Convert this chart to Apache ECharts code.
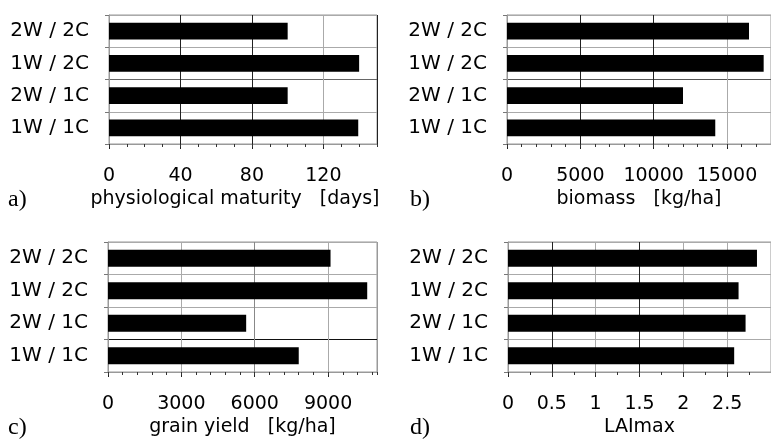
<!DOCTYPE html>
<html>
<head>
<meta charset="utf-8">
<script src="https://cdn.jsdelivr.net/npm/echarts@6/dist/echarts.min.js"></script>
<style>
  html, body { margin: 0; padding: 0; background: #fff; }
  #chart { width: 771px; height: 441px; }
</style>
</head>
<body>
<div id="chart"></div>
<script>
// categories from bottom to top
var categories = ['1W / 1C', '2W / 1C', '1W / 2C', '2W / 2C'];

var maturityDays = [139.5, 100, 140, 100];
var biomass = [14200, 12000, 17500, 16500];
var grainYield = [7800, 5650, 10600, 9100];
var laiMax = [2.58, 2.71, 2.63, 2.84];

// axis scale per panel: max, major step, minor step
var axisMax = [150, 18000, 11000, 3];
var majorStep = [40, 5000, 3000, 0.5];
var minorStep = [10, 1000, 600, 0.25];

var axisNames = ['physiological maturity   [days]', 'biomass   [kg/ha]', 'grain yield   [kg/ha]', 'LAImax'];
var panelLetters = ['a)', 'b)', 'c)', 'd)'];

var panelData = [maturityDays, biomass, grainYield, laiMax];

var grids = [
    {left: 109, width: 268, top: 15, height: 129},
    {left: 507, width: 267, top: 15, height: 129},
    {left: 108, width: 269, top: 242, height: 130},
    {left: 508, width: 276, top: 242, height: 130}
];

var vLineColors = [
    ['#999', '#222', '#222', '#aaa', '#222'],
    ['#999', '#222', '#222', '#aaa', '#aaa'],
    ['#999', '#aaa', '#888', '#aaa', '#999'],
    ['#999', '#222', '#aaa', '#222', '#aaa', '#aaa', '#aaa']
];
var hLineColors = [
    ['#999', '#aaa', '#666', '#aaa', '#aaa'],
    ['#999', '#aaa', '#555', '#aaa', '#aaa'],
    ['#999', '#111', '#aaa', '#aaa', '#aaa'],
    ['#999', '#aaa', '#aaa', '#aaa', '#aaa']
];
var namePadding = [[0, 16, 0, 0], 0, 0, 0];

var font = 'DejaVu Sans';

var xAxes = [], yAxes = [], series = [], gridOpts = [];
for (var i = 0; i < 4; i++) {
    gridOpts.push({
        left: grids[i].left, width: grids[i].width, top: grids[i].top, height: grids[i].height,
        show: true, borderColor: '#999', borderWidth: 1
    });
    xAxes.push({
        type: 'value', gridIndex: i, position: 'bottom',
        min: 0, max: axisMax[i], interval: majorStep[i],
        name: axisNames[i], nameLocation: 'middle', nameGap: 46,
        nameTextStyle: {fontFamily: font, fontSize: 19, color: '#000', padding: namePadding[i]},
        axisLine: {show: true, lineStyle: {color: '#999', width: 1}},
        axisTick: {show: true, length: 5, lineStyle: {color: '#222'}},
        axisLabel: {
            fontFamily: font, fontSize: 19, color: '#000', margin: 23, showMaxLabel: false,
            formatter: function (v) { return String(v); }
        },
        splitLine: {show: true, lineStyle: {color: vLineColors[i], width: 1}}
    });
    // minor ticks only
    xAxes.push({
        type: 'value', gridIndex: i, position: 'bottom',
        min: 0, max: axisMax[i], interval: minorStep[i],
        axisLine: {show: false},
        axisTick: {show: true, length: 3, lineStyle: {color: '#333'}},
        axisLabel: {show: false},
        splitLine: {show: false}
    });
    yAxes.push({
        type: 'category', gridIndex: i, data: categories,
        axisLine: {show: true, lineStyle: {color: '#999'}},
        axisTick: {show: true, length: 4, lineStyle: {color: '#777'}},
        axisLabel: {fontFamily: font, fontSize: 20, color: '#000', margin: 20},
        splitLine: {show: true, lineStyle: {color: hLineColors[i], width: 1}}
    });
    series.push({
        type: 'bar', xAxisIndex: 2 * i, yAxisIndex: i,
        data: panelData[i], barWidth: '52%',
        itemStyle: {color: '#000'}, silent: true
    });
}

var letterPos = [[8, 188], [410, 188], [8, 416], [410, 416]];
var graphics = letterPos.map(function (p, i) {
    return {
        type: 'text', left: p[0], top: p[1],
        style: {text: panelLetters[i], font: '24px "Liberation Serif"', fill: '#000'}
    };
});

var myChart = echarts.init(document.getElementById('chart'));
myChart.setOption({
    animation: false,
    grid: gridOpts,
    xAxis: xAxes,
    yAxis: yAxes,
    series: series,
    graphic: graphics
});
</script>
</body>
</html>
